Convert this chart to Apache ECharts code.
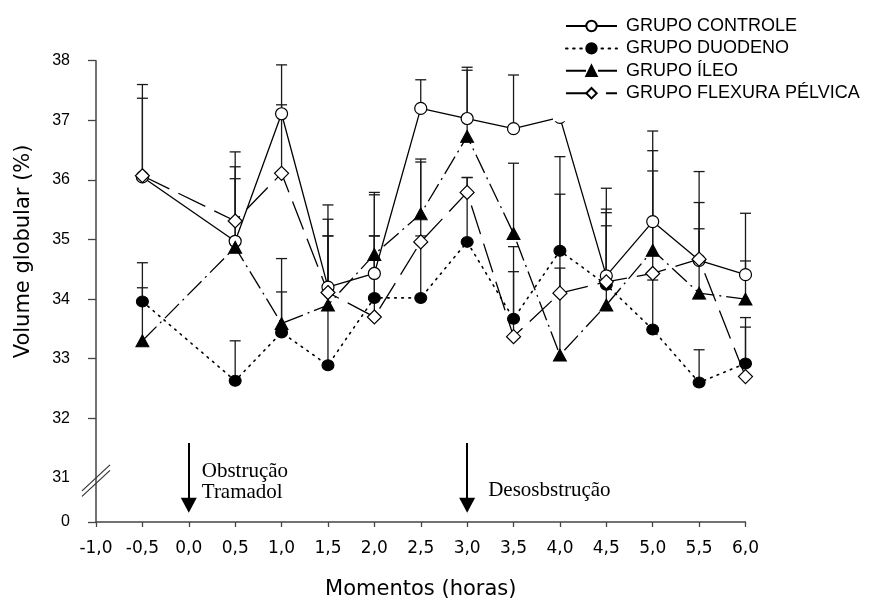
<!DOCTYPE html>
<html>
<head>
<meta charset="utf-8">
<script src="https://cdn.jsdelivr.net/npm/echarts@6/dist/echarts.min.js"></script>
<style>
html,body{margin:0;padding:0;background:#fff;}
#chart{width:891px;height:599px;}
</style>
</head>
<body>
<div id="chart"></div>
<script>
// ---- data ----
const xValues = [-0.5, 0.5, 1.0, 1.5, 2.0, 2.5, 3.0, 3.5, 4.0, 4.5, 5.0, 5.5, 6.0];
const controle    = [36.05, 34.97, 37.11, 34.20, 34.43, 37.20, 37.03, 36.86, 37.05, 34.39, 35.30, 34.65, 34.41];
const controleErr = [1.55, 1.50, 0.82, 1.38, 1.32, 0.48, 0.86, 0.90, 0.75, 1.47, 1.52, 1.49, 1.03];
const duodeno     = [33.96, 32.63, 33.44, 32.89, 34.02, 34.02, 34.96, 33.67, 34.81, 34.24, 33.49, 32.60, 32.92];
const duodenoErr  = [0.65, 0.67, 0.68, 2.17, 1.04, 1.04, 1.08, 0.79, 1.58, 1.21, 0.83, 0.55, 0.77];
const ileo        = [33.30, 34.87, 33.59, 33.90, 34.75, 35.43, 36.73, 35.10, 33.06, 33.90, 34.82, 34.10, 34.00];
const ileoErr     = [0.89, 1.15, 1.09, 1.44, 1.04, 0.92, 1.11, 1.18, 1.46, 1.33, 1.67, 1.08, 0.64];
const flexura     = [36.07, 35.31, 36.11, 34.11, 33.70, 34.96, 35.79, 33.37, 34.10, 34.29, 34.43, 34.67, 32.70];
const flexuraErr  = [1.30, 0.91, 1.15, 0.95, 1.36, 1.34, 0.25, 1.51, 1.66, 1.22, 1.72, 0.95, 0.83];

const seriesNames = ['GRUPO CONTROLE', 'GRUPO DUODENO', 'GRUPO ÍLEO', 'GRUPO FLEXURA PÉLVICA'];
const yBreakBase = 30.26;          // axis position standing for "0" (broken axis)
const yTickValues = [31, 32, 33, 34, 35, 36, 37, 38];
const xTickMin = -1, xTickMax = 6, xTickStep = 0.5;
const yTitle = 'Volume globular (%)';
const xTitle = 'Momentos (horas)';
const annotations = [
  {x: 0, top: 31.586, bottom: 30.54, text: 'Obstrução\nTramadol', textY: 30.928, dx: 13},
  {x: 3, top: 31.586, bottom: 30.54, text: 'Desosbstrução', textY: 30.797, dx: 21}
];

// ---- chart ----
const chart = echarts.init(document.getElementById('chart'), null, {renderer: 'canvas'});
const sans = 'Liberation Sans, Arial, sans-serif';
const wide = 'DejaVu Sans, sans-serif';

function pairs(vals) { return xValues.map((x, i) => [x, vals[i]]); }
function errData(vals, errs) { return xValues.map((x, i) => [x, vals[i], +(vals[i] + errs[i]).toFixed(3)]); }

function errSeries(name, vals, errs) {
  return {
    name: name, type: 'custom', z: 1, silent: true,
    data: errData(vals, errs),
    encode: {x: 0, y: [1, 2]},
    renderItem: function (params, api) {
      const p0 = api.coord([api.value(0), api.value(1)]);
      const p1 = api.coord([api.value(0), api.value(2)]);
      const hw = 5.5;
      const st = {stroke: '#1a1a1a', lineWidth: 1.3};
      return {type: 'group', children: [
        {type: 'line', shape: {x1: p0[0], y1: p0[1], x2: p1[0], y2: p1[1]}, style: st},
        {type: 'line', shape: {x1: p1[0] - hw, y1: p1[1], x2: p1[0] + hw, y2: p1[1]}, style: st}
      ]};
    }
  };
}

const blackLine = (type, w) => ({color: '#000', width: w || 1.3, type: type});

const option = {
  animation: false,
  backgroundColor: '#fff',
  grid: {left: 96, right: 145.5, top: 60.7, bottom: 77, containLabel: false, outerBoundsMode: 'none'},
  legend: {
    orient: 'vertical', left: 553, top: 0,
    padding: [17, 5, 19, 12],
    itemWidth: 51, itemHeight: 13, itemGap: 4.4,
    backgroundColor: '#fff',
    data: seriesNames,
    textStyle: {fontFamily: sans, fontSize: 18, color: '#000', padding: [0, 0, 0, 4]}
  },
  xAxis: {
    type: 'value', min: xTickMin, max: xTickMax, interval: xTickStep,
    name: xTitle, nameLocation: 'middle', nameGap: 57,
    nameTextStyle: {fontFamily: wide, fontSize: 21, color: '#000'},
    axisLine: {show: true, onZero: false, lineStyle: {color: '#444', width: 1.5}},
    axisTick: {show: true, length: 5, lineStyle: {color: '#444', width: 1.3}},
    axisLabel: {fontFamily: wide, fontSize: 17, color: '#000', margin: 18,
      formatter: v => v.toFixed(1).replace('.', ',')},
    splitLine: {show: false}
  },
  yAxis: {
    type: 'value', min: yBreakBase, max: 38,
    axisLine: {show: true, onZero: false, lineStyle: {color: '#444', width: 1.5}},
    axisTick: {show: true, length: 8, lineStyle: {color: '#444', width: 1.3},
      customValues: [yBreakBase].concat(yTickValues.slice(1))},
    axisLabel: {fontFamily: sans, fontSize: 16, color: '#000', margin: 26,
      customValues: [yBreakBase].concat(yTickValues),
      formatter: v => (v < 30.9 ? '0' : String(Math.round(v)))},
    splitLine: {show: false}
  },
  series: [
    errSeries('err controle', controle, controleErr),
    errSeries('err duodeno', duodeno, duodenoErr),
    errSeries('err ileo', ileo, ileoErr),
    errSeries('err flexura', flexura, flexuraErr),
    {
      name: seriesNames[0], type: 'line', z: 3, data: pairs(controle),
      symbol: 'circle', symbolSize: 12,
      itemStyle: {color: '#fff', borderColor: '#000', borderWidth: 1.2},
      lineStyle: blackLine('solid'),
      markLine: {
        silent: true, symbol: ['none', 'triangle'], symbolSize: [16, 15],
        label: {show: false},
        lineStyle: {color: '#000', width: 2, type: 'solid'},
        data: annotations.map(a => [{coord: [a.x, a.top]}, {coord: [a.x, a.bottom]}])
      }
    },
    {
      name: seriesNames[1], type: 'line', z: 3, data: pairs(duodeno),
      symbol: 'circle', symbolSize: [12, 11],
      itemStyle: {color: '#000', borderColor: '#000', borderWidth: 1},
      lineStyle: {color: '#000', width: 1.6, type: [1.6, 5.5], cap: 'round'}
    },
    {
      name: seriesNames[2], type: 'line', z: 3, data: pairs(ileo),
      symbol: 'triangle', symbolSize: [13, 12],
      itemStyle: {color: '#000', borderColor: '#000', borderWidth: 1},
      lineStyle: blackLine([20, 5, 2, 5])
    },
    {
      name: seriesNames[3], type: 'line', z: 3, data: pairs(flexura),
      symbol: 'diamond', symbolSize: [14, 14],
      itemStyle: {color: '#fff', borderColor: '#000', borderWidth: 1.2},
      lineStyle: blackLine([30, 10])
    }
  ]
};
chart.setOption(option);

// ---- decorations positioned through the axes ----
const g = [];
const ax = chart.convertToPixel({gridIndex: 0}, [xTickMin, 31]);
[0, 5.5].forEach(off => {
  const cx = ax[0], cy = ax[1] + off;
  g.push({type: 'line', shape: {x1: cx - 14, y1: cy + 13, x2: cx + 14, y2: cy - 13},
    style: {stroke: '#333', lineWidth: 1.2}, z: 10});
});
annotations.forEach(a => {
  const p = chart.convertToPixel({gridIndex: 0}, [a.x, a.textY]);
  g.push({type: 'text', x: p[0] + a.dx, y: p[1], z: 10,
    style: {text: a.text, fontFamily: 'Liberation Serif, Times New Roman, serif', fontSize: 21,
      lineHeight: 21, fill: '#000', align: 'left', verticalAlign: 'middle'}});
});
const yMid = chart.convertToPixel({gridIndex: 0}, [xTickMin, 34.8]);
g.push({type: 'text', x: 24, y: yMid[1], rotation: Math.PI / 2, z: 10,
  style: {text: yTitle, fontFamily: wide, fontSize: 21, fill: '#000', align: 'center', verticalAlign: 'middle'}});
chart.setOption({graphic: g});
</script>
</body>
</html>
